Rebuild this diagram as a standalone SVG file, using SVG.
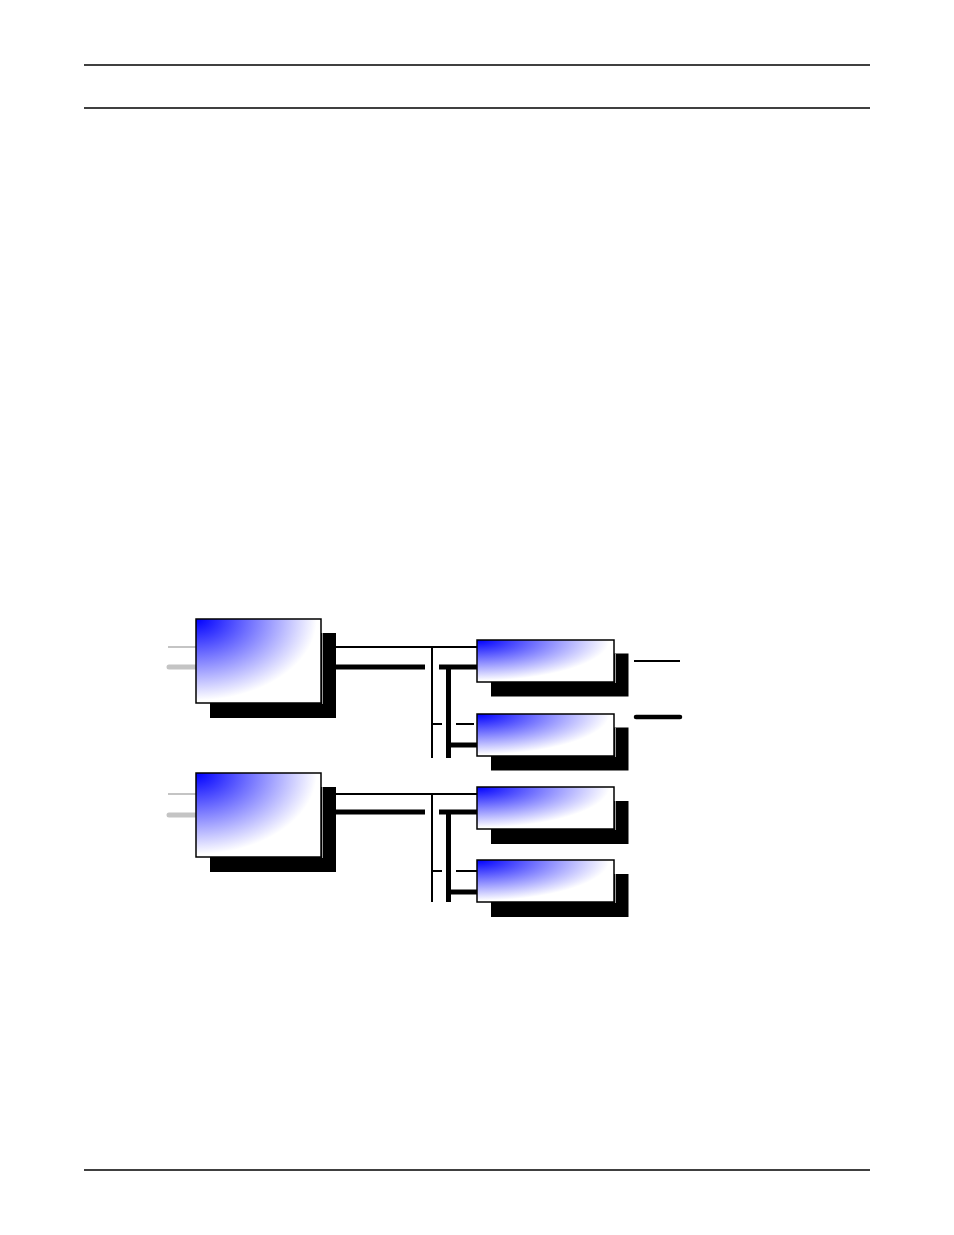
<svg xmlns="http://www.w3.org/2000/svg" width="954" height="1235" viewBox="0 0 954 1235">
<defs>
<radialGradient id="g" cx="0" cy="0" r="1.1" fx="0" fy="0" gradientUnits="objectBoundingBox">
<stop offset="0" stop-color="#0000ff"/>
<stop offset="0.88" stop-color="#ffffff"/>
<stop offset="1" stop-color="#ffffff"/>
</radialGradient>
</defs>
<style>
.rule{stroke:#000;stroke-width:1.3}
.sh{fill:#000}
.bx{fill:url(#g);stroke:#000;stroke-width:1.5}
.edge{stroke:#999;stroke-width:1}
.t{stroke:#000;stroke-width:2;fill:none}
.k{stroke:#000;stroke-width:5;fill:none}
.gt{stroke:#c4c4c4;stroke-width:2}
.gk{stroke:#c4c4c4;stroke-width:5;stroke-linecap:round}
.rk{stroke:#000;stroke-width:4.5;stroke-linecap:round}
</style>
<rect width="954" height="1235" fill="#fff"/>
<g id="page-rules">
<line class="rule" x1="84" y1="65" x2="870" y2="65"/>
<line class="rule" x1="84" y1="108" x2="870" y2="108"/>
<line class="rule" x1="84" y1="1170" x2="870" y2="1170"/>
</g>
<g id="connectors">
<line class="gt" x1="168" y1="647" x2="196" y2="647"/>
<line class="gk" x1="169" y1="667" x2="196" y2="667"/>
<line class="t" x1="336" y1="647" x2="477" y2="647"/>
<line class="t" x1="432" y1="647" x2="432" y2="758"/>
<line class="k" x1="336" y1="667" x2="425" y2="667"/>
<line class="k" x1="439" y1="667" x2="477" y2="667"/>
<line class="k" x1="448.5" y1="667" x2="448.5" y2="758"/>
<line class="t" x1="432" y1="724" x2="442" y2="724"/>
<line class="t" x1="456" y1="724" x2="474" y2="724"/>
<line class="k" x1="451" y1="745" x2="477" y2="745"/>
<line class="t" x1="634" y1="661" x2="680" y2="661"/>
<line class="rk" x1="636" y1="717" x2="680" y2="717"/>

<line class="gt" x1="168" y1="794" x2="196" y2="794"/>
<line class="gk" x1="169" y1="815" x2="196" y2="815"/>
<line class="t" x1="336" y1="794" x2="477" y2="794"/>
<line class="t" x1="432" y1="794" x2="432" y2="902"/>
<line class="k" x1="336" y1="812" x2="425" y2="812"/>
<line class="k" x1="439" y1="812" x2="477" y2="812"/>
<line class="k" x1="448.5" y1="812" x2="448.5" y2="902"/>
<line class="t" x1="432" y1="871" x2="442" y2="871"/>
<line class="t" x1="456" y1="871" x2="477" y2="871"/>
<line class="k" x1="451" y1="892" x2="477" y2="892"/>
</g>
<g id="big1">
<rect class="sh" x="210" y="633" width="126" height="85"/>
<rect class="bx" x="196" y="619" width="125" height="84"/>
<line class="edge" x1="322.5" y1="633" x2="322.5" y2="704"/>
</g>
<g id="big2">
<rect class="sh" x="210" y="787" width="126" height="85"/>
<rect class="bx" x="196" y="773" width="125" height="84"/>
<line class="edge" x1="322.5" y1="787" x2="322.5" y2="858"/>
</g>
<g id="small1">
<rect class="sh" x="491" y="653.5" width="137.5" height="43"/>
<rect class="bx" x="477" y="640" width="137" height="42"/>
<line class="edge" x1="615.5" y1="653.5" x2="615.5" y2="683"/>
</g>
<g id="small2">
<rect class="sh" x="491" y="727.5" width="137.5" height="43"/>
<rect class="bx" x="477" y="714" width="137" height="42"/>
<line class="edge" x1="615.5" y1="727.5" x2="615.5" y2="757"/>
</g>
<g id="small3">
<rect class="sh" x="491" y="801" width="137.5" height="43"/>
<rect class="bx" x="477" y="787" width="137" height="42"/>
<line class="edge" x1="615.5" y1="801" x2="615.5" y2="830"/>
</g>
<g id="small4">
<rect class="sh" x="491" y="874" width="137.5" height="43"/>
<rect class="bx" x="477" y="860" width="137" height="42"/>
<line class="edge" x1="615.5" y1="874" x2="615.5" y2="903"/>
</g>
</svg>
